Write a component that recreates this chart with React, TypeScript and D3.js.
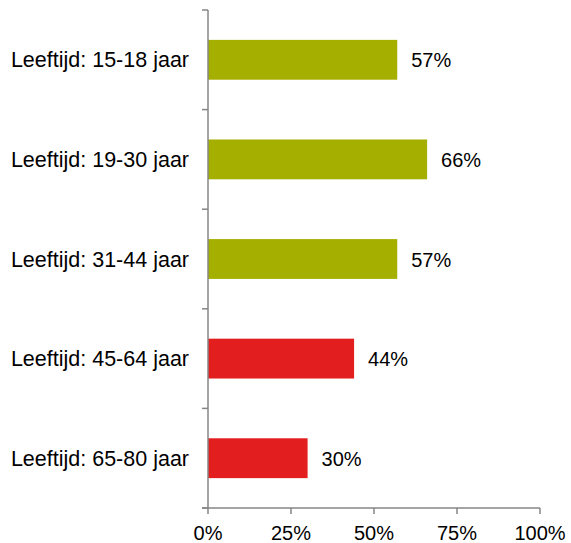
import React from "react";
import * as d3 from "d3";

const categories = [
  "Leeftijd: 15-18 jaar",
  "Leeftijd: 19-30 jaar",
  "Leeftijd: 31-44 jaar",
  "Leeftijd: 45-64 jaar",
  "Leeftijd: 65-80 jaar",
];
const values = [57, 66, 57, 44, 30];
const barColors = ["#A5AF00", "#A5AF00", "#A5AF00", "#E31E1E", "#E31E1E"];
const xTicks = [0, 25, 50, 75, 100];

const W = 571;
const H = 543;
const FONT = "'Liberation Sans', Arial, sans-serif";

export default function App() {
  const x = d3.scaleLinear().domain([0, 100]).range([208, 540]);
  const y = d3
    .scaleBand<string>()
    .domain(categories)
    .range([10, 508])
    .paddingInner(0.6)
    .paddingOuter(0.3);
  const step = y.step();
  const bw = y.bandwidth();
  const boundaries = d3.range(categories.length + 1).map((i) => 10 + i * step);
  const axisColor = "#868686";

  return (
    <svg
      width={W}
      height={H}
      style={{ position: "absolute", left: 0, top: 0, background: "#fff" }}
      fontFamily={FONT}
    >
      {categories.map((c, i) => (
        <g key={c}>
          <rect
            x={x(0)}
            y={y(c)!}
            width={x(values[i]) - x(0)}
            height={bw}
            fill={barColors[i]}
          />
          <text
            x={x(values[i]) + 14}
            y={y(c)! + bw / 2}
            dy="0.38em"
            fontSize={20}
            fill="#000"
          >
            {values[i]}%
          </text>
          <text
            x={189}
            y={y(c)! + bw / 2}
            dy="0.35em"
            fontSize={21.5}
            textAnchor="end"
            fill="#000"
          >
            {c}
          </text>
        </g>
      ))}
      {/* y axis */}
      <line x1={x(0)} x2={x(0)} y1={10} y2={508} stroke={axisColor} strokeWidth={1.5} />
      {boundaries.map((b, i) => (
        <line key={i} x1={x(0) - 6} x2={x(0)} y1={b} y2={b} stroke={axisColor} strokeWidth={1.5} />
      ))}
      {/* x axis */}
      <line x1={x(0) - 6} x2={x(100)} y1={508} y2={508} stroke={axisColor} strokeWidth={1.5} />
      {xTicks.map((t) => (
        <g key={t}>
          <line x1={x(t)} x2={x(t)} y1={508} y2={514} stroke={axisColor} strokeWidth={1.5} />
          <text x={x(t)} y={532.5} dy="0.35em" fontSize={20} textAnchor="middle" fill="#000">
            {t}%
          </text>
        </g>
      ))}
    </svg>
  );
}
